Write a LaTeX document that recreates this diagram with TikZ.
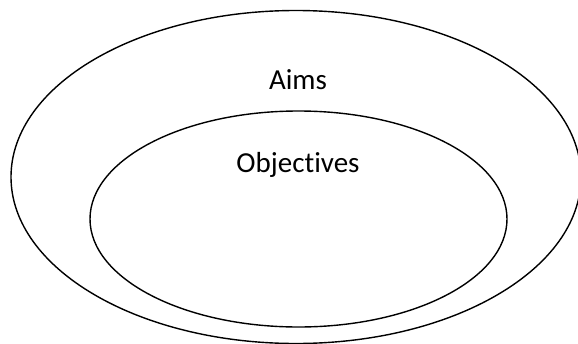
\documentclass[tikz,border=0pt]{standalone}
\usepackage{fontspec}
\setmainfont{Carlito}[Ligatures={NoCommon}]
\tikzset{
  ring/.style={draw=black, line width=1.4pt},
  lbl/.style={inner sep=0pt, anchor=base, font=\fontsize{29}{34}\selectfont}
}
\begin{document}
\begin{tikzpicture}[x=1pt,y=1pt]
\useasboundingbox (0,0) rectangle (578,-343);
\clip (0,0) rectangle (578,-343);
\draw[ring] (296,-177) ellipse [x radius=285, y radius=166.5];
\draw[ring] (298.5,-219) ellipse [x radius=208.5, y radius=108];
\node[lbl] (aims) at (298,-89.5) {Aims};
\node[lbl] (obj) at (298,-172) {Objectives};
\end{tikzpicture}
\end{document}
